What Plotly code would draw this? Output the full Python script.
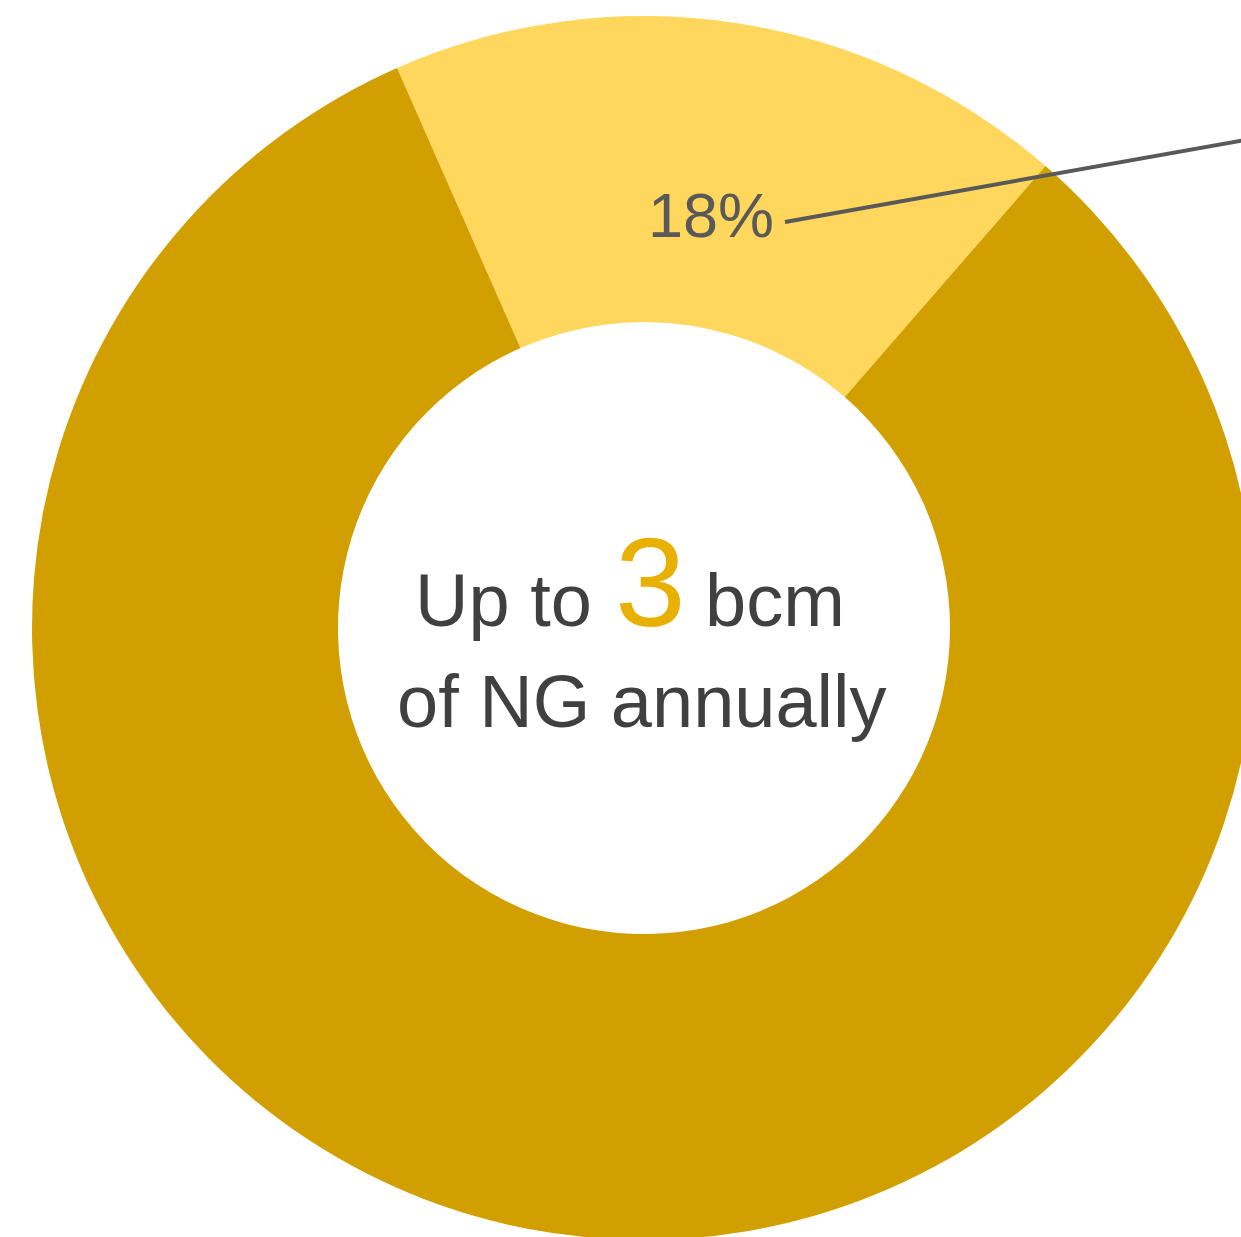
import plotly.graph_objects as go

labels = ["Share", "Remainder"]
values = [18, 82]
colors = ["#FFD75C", "#D1A000"]
pct_label = "18%"
center_line1_left = "Up to"
center_value = "3"
center_line1_right = "bcm"
center_line2 = "of NG annually"

# figure slightly larger than the window so the ring is clipped at right/bottom like the reference
W, H = 1256, 1240

fig = go.Figure()
fig.add_trace(go.Pie(
    labels=labels,
    values=values,
    marker=dict(colors=colors, line=dict(width=0)),
    hole=0.5,
    sort=False,
    direction="clockwise",
    rotation=-23.8,
    textinfo="none",
    hoverinfo="label+percent",
    showlegend=False,
    domain=dict(x=[32 / W, 1], y=[0, 1 - 16 / H]),
))

font_family = "Liberation Sans, Arial, sans-serif"
dark = "#404040"


def px(x):
    return x / W


def py(y):
    return 1 - y / H


annotations = [
    dict(text=center_line1_left, x=px(594), y=py(600), xanchor="right", yanchor="middle",
         font=dict(family=font_family, size=74, color=dark)),
    dict(text=center_value, x=px(650), y=py(582), xanchor="center", yanchor="middle",
         font=dict(family=font_family, size=127, color="#E8B000")),
    dict(text=center_line1_right, x=px(703), y=py(600), xanchor="left", yanchor="middle",
         font=dict(family=font_family, size=74, color=dark)),
    dict(text=center_line2, x=px(642), y=py(701), xanchor="center", yanchor="middle",
         font=dict(family=font_family, size=74, color=dark)),
    dict(text=pct_label, x=px(711), y=py(215), xanchor="center", yanchor="middle",
         font=dict(family=font_family, size=63, color="#595959")),
]
for a in annotations:
    a.update(xref="paper", yref="paper", showarrow=False)

fig.update_layout(
    width=W, height=H,
    margin=dict(l=0, r=0, t=0, b=0),
    paper_bgcolor="white",
    plot_bgcolor="white",
    annotations=annotations,
    shapes=[dict(type="line", xref="paper", yref="paper",
                 x0=px(785), y0=py(222), x1=px(1256), y1=py(138),
                 line=dict(color="#595959", width=4))],
)

fig.write_html(
    "out.html",
    config={"displayModeBar": False},
    post_script="document.body.style.margin='0';document.body.style.overflow='hidden';",
)
